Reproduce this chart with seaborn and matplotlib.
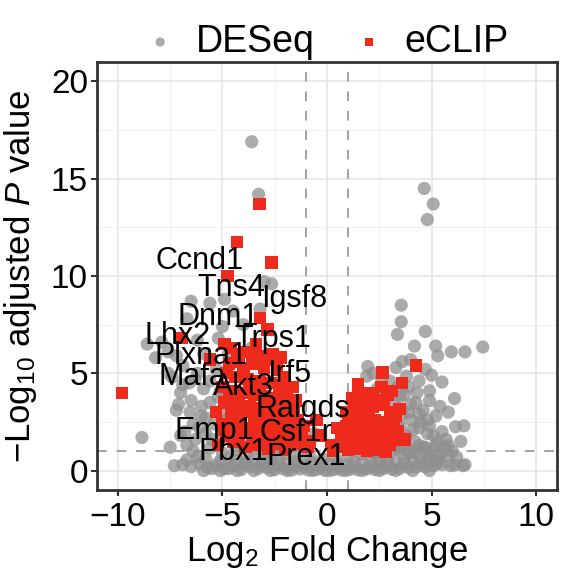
import pandas as pd
import matplotlib
matplotlib.use("Agg")
import matplotlib.pyplot as plt
import seaborn as sns
from matplotlib.ticker import MultipleLocator

# DESeq genes (grey), log2 fold change / -log10 padj
deseq_lfc = [
    -3.6, -3.27, 4.65, 5.08, 4.8,
    -2.65, -3.0, -3.2, -6.5, -5.6, -4.9, -6.7,
    -8.6, -7.9, -7.6, -5.2, -8.85,
    3.55, 3.55, 3.37, 4.7, 4.18, 5.2, 5.3, 5.95, 6.6, 7.45, 4.0, 1.95, 3.3, 4.7,
    1.9, 3.8, 5.5, 4.3, 6.1, 4.25, 5.4, 5.2, 6.15, 6.55, 5.7, 5.9, 6.5,
    3.0, 2.8, 3.7, 4.6, 3.9, 4.5, 3.4, 4.1, 4.8, 5.3, 3.6, 4.4, 5.0, 5.5, 6.2,
    3.2, 3.9, 2.5, 3.2, 3.6, 4.0, 4.4, 4.8, 3.3, 3.8, 4.2, 4.7, 5.1, 5.6, 6.0,
    3.5, 2.9, 4.9, 3.9, 4.4, 5.0, 3.5, 2.4,
    3.1, 3.5, 4.0, 4.4, 4.9, 5.5, 3.7, 4.2, 4.8, 5.3, 5.8, 6.4, 2.6, 3.4,
    4.9, 5.8, 2.2, 3.6,
    -7.5, -7.0, -6.7, -6.55, -6.1, -5.9, -5.6, -5.3, -5.0, -4.7, -6.2, -7.0,
    -5.5, -4.4, -3.9, -3.2, -2.3, -1.2, -1.5, -2.0, -4.2, -5.8, -6.4, -7.2,
    -4.0, -3.6, -3.0, -2.7, -1.0, -0.6, -7.6, -6.9, -6.3, -5.1, -6.0, -4.3,
    -6.8, -6.3, -5.8, -5.4, -6.0, -5.6, -6.5, -7.1, -5.2, -4.8, -5.0, -6.6,
    -6.9, -7.4, -5.9, -6.2, -5.0, -4.5, -7.2, -8.2,
    -7.3, -6.9, -6.5, -6.1, -5.7, -5.3, -4.9, -4.5, -4.1, -3.7, -3.3, -2.9,
    -2.5, -2.1, -1.7, -1.3, -0.9, -0.5, -0.1, 0.3, 0.7, 1.1, 1.5, 1.9, 2.3,
    2.7, 3.1, 3.5, 3.9, 4.3, 4.7, 5.1, 5.5, 6.1, 6.6,
    -6.7, -6.2, -5.8, -5.1, -4.7, -4.3, -3.9, -3.5, -3.1, -2.7, -2.3, -1.9,
    -1.5, -1.1, -0.7, -0.3, 0.1, 0.5, 0.9, 1.3, 1.7, 2.1, 2.5, 2.9, 3.3,
    3.7, 4.1, 4.5, 4.9, 5.3, 5.8,
    -6.4, -5.6, -5.0, -4.4, -3.8, -3.2, -2.6, -2.0, -1.4, -0.8, -0.2, 0.4,
    1.0, 1.6, 2.2, 2.8, 3.4, 4.0, 4.6, 5.2,
    -5.9, -5.5, -5.1, -4.7, -4.3, -3.9, -3.5, -3.1, -2.7, -2.3, -1.9, -1.5,
    -1.1, -0.7, -0.3, 0.1, 0.5, 0.9, 1.3, 1.7, 2.1, 2.5, 2.9, 3.3, 3.7,
    4.1, 4.5, 4.9, 5.3,
]
deseq_padj = [
    16.9, 14.2, 14.5, 13.7, 12.9,
    9.6, 9.7, 8.3, 8.7, 8.6, 8.8, 7.8,
    6.5, 6.6, 6.1, 6.8, 1.7,
    8.5, 7.65, 7.0, 7.15, 6.4, 6.4, 5.9, 6.1, 6.1, 6.35, 5.7, 5.35, 5.3, 5.2,
    4.85, 4.85, 4.55, 4.0, 3.7, 3.5, 3.3, 2.8, 2.25, 2.3, 1.6, 0.25, 0.25,
    4.6, 3.7, 3.9, 3.1, 3.0, 2.5, 2.4, 2.1, 1.9, 1.5, 1.7, 1.3, 1.0, 0.9, 0.7,
    1.1, 0.9, 0.6, 3.5, 2.9, 2.6, 2.2, 2.6, 2.0, 1.8, 1.5, 1.2, 1.8, 1.2, 1.0,
    1.2, 1.5, 3.6, 4.3, 4.6, 4.9, 3.8, 4.2,
    2.7, 2.2, 3.4, 2.9, 2.3, 2.0, 1.3, 0.9, 0.6, 0.5, 1.3, 1.5, 4.8, 4.3,
    4.1, 3.0, 5.0, 5.6,
    1.2, 1.8, 1.3, 3.0, 2.2, 4.2, 3.5, 5.2, 3.0, 6.0, 5.0, 4.0,
    1.6, 2.6, 2.0, 1.8, 1.2, 1.5, 2.5, 3.3, 1.4, 2.7, 2.4, 3.1,
    7.5, 6.3, 0.9, 1.6, 1.1, 1.9, 5.0, 4.4, 4.7, 4.1, 3.3, 2.5,
    2.0, 1.6, 1.9, 2.4, 2.8, 4.6, 3.6, 3.4, 3.8, 2.6, 1.6, 4.5,
    5.4, 4.8, 6.0, 6.7, 7.4, 8.2, 5.9, 5.8,
    0.25, 0.3, 0.2, 0.35, 0.15, 0.3, 0.1, 0.25, 0.05, 0.2, 0.1, 0.15,
    0.05, 0.1, 0.02, 0.08, 0.03, 0.05, 0.01, 0.04, 0.02, 0.06, 0.03, 0.08, 0.05,
    0.1, 0.07, 0.12, 0.15, 0.2, 0.18, 0.25, 0.3, 0.28, 0.3,
    0.55, 0.7, 0.6, 0.5, 0.65, 0.55, 0.45, 0.6, 0.5, 0.4, 0.55, 0.35,
    0.45, 0.3, 0.4, 0.25, 0.3, 0.35, 0.3, 0.45, 0.4, 0.5, 0.45, 0.55, 0.5,
    0.6, 0.55, 0.7, 0.65, 0.75, 0.8,
    1.0, 1.15, 0.9, 1.05, 0.95, 1.1, 0.85, 0.9, 0.8, 0.7, 0.6, 0.65,
    0.75, 0.85, 0.9, 0.95, 1.1, 1.0, 1.2, 1.3,
    0.0, 0.1, 0.0, 0.1, 0.0, 0.35, 0.0, 0.3, 0.0, 0.3, 0.0, 0.2,
    0.2, 0.0, 0.15, 0.0, 0.15, 0.0, 0.2, 0.0, 0.2, 0.0, 0.3, 0.0, 0.35,
    0.0, 0.35, 0.0, 0.4,
]

# eCLIP targets (red)
eclip_lfc = [
    -3.22, -4.3, -2.65, -4.75, -6.95, -9.8, -3.2, -2.85, -4.9,
    -4.6, -3.9, -3.4, -2.6, -4.2, -3.6, -3.0, -2.4, -4.8, -4.4, -3.8, -3.2,
    -2.7, -2.1, -1.9, -5.0, -4.5, -4.0, -3.5, -3.0, -2.5, -4.9, -4.3, -3.7,
    -3.1, -2.6, -2.0, -1.6, -4.6, -4.1, -3.5, -2.9, -2.3, -1.8, -1.4, -5.0,
    -4.4, -3.8, -3.3, -2.7, -2.1, -1.5, -4.8, -4.2, -3.6, -3.0, -2.4, -1.8,
    -1.3, -3.9, -2.8, -2.0, -5.6, -5.3, -1.65, -2.2, -0.8, -0.3, 0.2, 0.5,
    -0.5, 0.3, -1.1, -0.9,
    -4.7, -4.0, -3.3, -2.8, -4.3, -3.7, -3.2, -2.3, -4.7, -4.2, -2.8, -2.2,
    -1.8, -3.9, -3.3, -2.6, -2.0, -4.9, -4.5, -3.3, -2.5, -1.6, -4.1, -3.6,
    -5.2, -1.2, -1.5, -2.0,
    2.65, 1.47, 2.0, 2.6, 3.1, 3.6, 1.47, 3.46, 4.27,
    0.9, 1.3, 1.7, 2.2, 2.7, 3.0, 1.0, 1.4, 1.8, 2.3, 2.8, 3.2, 0.8, 1.2,
    1.6, 2.0, 2.5, 2.9, 0.9, 1.3, 1.7, 2.1, 2.6, 3.0, 1.0, 1.4, 1.9, 2.4,
    2.8, 0.7, 3.4, 3.7, 2.2, 1.2,
    1.1, 1.5, 2.0, 2.4, 1.2, 1.6, 2.2, 2.7, 3.1, 0.8, 1.9, 2.4, 2.9, 1.5,
    3.3, 0.9,
]
eclip_padj = [
    13.7, 11.75, 10.7, 10.0, 6.8, 4.0, 7.85, 7.25, 6.5,
    6.3, 6.1, 6.5, 6.0, 5.6, 5.5, 5.3, 5.2, 5.0, 4.8, 4.7, 4.6,
    4.5, 4.4, 3.9, 4.3, 4.1, 4.0, 3.9, 3.8, 3.7, 3.5, 3.4, 3.3,
    3.2, 3.1, 3.0, 3.2, 2.9, 2.8, 2.7, 2.6, 2.5, 2.4, 2.6, 2.4,
    2.3, 2.2, 2.1, 2.0, 1.9, 1.8, 1.8, 1.7, 1.6, 1.5, 1.4, 1.3,
    1.4, 1.2, 1.1, 1.05, 5.7, 3.0, 4.3, 5.8, 1.5, 1.8, 1.3, 2.2,
    2.6, 1.0, 2.3, 1.2,
    5.5, 5.2, 5.9, 5.7, 6.0, 4.3, 4.1, 4.0, 3.8, 3.6, 3.5, 3.4,
    2.9, 3.0, 2.5, 2.3, 2.2, 2.1, 1.5, 1.3, 1.7, 1.5, 2.0, 1.9,
    1.3, 2.0, 3.6, 4.8,
    5.05, 4.45, 4.0, 4.3, 4.1, 4.5, 3.5, 3.15, 5.4,
    3.0, 3.1, 3.2, 3.3, 3.4, 3.0, 2.5, 2.6, 2.7, 2.6, 2.5, 2.4, 2.0, 2.1,
    2.0, 2.2, 2.0, 1.9, 1.5, 1.6, 1.5, 1.6, 1.4, 1.3, 1.05, 1.1, 1.0, 1.05,
    0.95, 1.6, 2.0, 1.6, 3.8, 3.7,
    2.8, 2.3, 2.8, 2.4, 1.3, 1.8, 1.3, 1.7, 1.6, 1.2, 3.6, 3.6, 3.9, 3.9,
    2.8, 2.3,
]

# labelled genes
gene_names = ["Ccnd1", "Tns4", "Igsf8", "Dnm1", "Lhx2", "Trps1", "Plxna1",
              "Irf5", "Mafa", "Akt3", "Ralgds", "Emp1", "Csf1r", "Pbx1", "Prex1"]
gene_lfc = [-6.1, -4.6, -1.55, -5.2, -7.15, -2.6, -6.0,
            -1.8, -6.45, -4.0, -1.15, -5.4, -1.5, -4.5, -1.0]
gene_padj = [10.75, 9.4, 8.8, 7.9, 6.9, 6.75, 5.9,
             4.95, 4.8, 4.3, 3.15, 2.05, 1.95, 0.95, 0.7]

plt.rcParams['font.family'] = ['Liberation Sans', 'DejaVu Sans']
plt.rcParams['mathtext.fontset'] = 'custom'
plt.rcParams['mathtext.rm'] = 'Liberation Sans'
plt.rcParams['mathtext.it'] = 'Liberation Sans:italic'

deseq = pd.DataFrame({"lfc": deseq_lfc, "padj": deseq_padj})
eclip = pd.DataFrame({"lfc": eclip_lfc, "padj": eclip_padj})

fig = plt.figure(figsize=(5.63, 5.72), dpi=100)
ax = fig.add_axes([97 / 563, 82 / 572, 460 / 563, 428 / 572])

# grid (major + minor, ggplot theme_bw look)
ax.xaxis.set_major_locator(MultipleLocator(5))
ax.yaxis.set_major_locator(MultipleLocator(5))
ax.xaxis.set_minor_locator(MultipleLocator(2.5))
ax.yaxis.set_minor_locator(MultipleLocator(2.5))
ax.grid(which='major', color='#e4e4e4', lw=1.1)
ax.grid(which='minor', color='#eeeeee', lw=0.6)
ax.set_axisbelow(True)

ax.axvline(-1, color='#aaa0a0', lw=1.4, ls=(0, (5, 5)), zorder=1)
ax.axvline(1, color='#aaa0a0', lw=1.4, ls=(0, (5, 5)), zorder=1)
ax.axhline(1, color='#aaa0a0', lw=1.4, ls=(0, (5, 5)), zorder=1)

sns.scatterplot(data=deseq, x="lfc", y="padj", color='#8f8f8f', alpha=0.75,
                marker='o', s=90, edgecolor='none', label='DESeq', ax=ax, zorder=2)
sns.scatterplot(data=eclip, x="lfc", y="padj", color='#ee2a1c',
                marker='s', s=80, edgecolor='none', label='eCLIP', ax=ax, zorder=3)

for name, gx, gy in zip(gene_names, gene_lfc, gene_padj):
    ax.text(gx, gy, name, ha='center', va='center', fontsize=22, color='black', zorder=4)

ax.set_xlim(-11, 11)
ax.set_ylim(-1, 21)

for sp in ax.spines.values():
    sp.set_color('#333333')
    sp.set_linewidth(2)
ax.tick_params(which='major', length=4.5, width=1.5, color='#333333', labelsize=24)
ax.tick_params(axis='x', which='major', pad=4)
ax.tick_params(axis='y', which='major', pad=2)
ax.tick_params(which='minor', length=0)

ax.set_xlabel('Log$_2$ Fold Change', fontsize=25)
ax.set_ylabel('$-$Log$_{10}$ adjusted $P$ value', fontsize=25)
ax.xaxis.set_label_coords(0.5, -0.1)
ax.yaxis.set_label_coords(-0.125, 0.5)

ax.legend(loc='center', bbox_to_anchor=(0.5, 1.047), ncol=2, frameon=False,
          fontsize=27, markerscale=0.7, handlelength=0.8, handletextpad=0.55,
          columnspacing=1.05, borderaxespad=0)

fig.savefig('out.png', dpi=100)
